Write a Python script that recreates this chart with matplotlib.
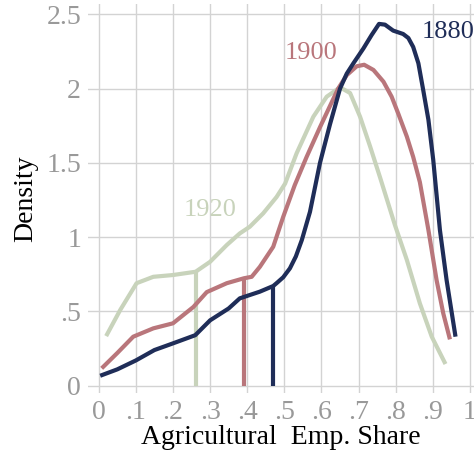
import matplotlib.pyplot as plt
import numpy as np

plt.rcParams['font.family'] = ['Liberation Serif', 'DejaVu Serif']

x_1880 = [0.004, 0.05, 0.10, 0.15, 0.20, 0.26, 0.30, 0.35, 0.38, 0.434, 0.470, 0.479, 0.497,
          0.515, 0.531, 0.547, 0.569, 0.596, 0.623, 0.65, 0.668, 0.686, 0.713, 0.735, 0.755,
          0.771, 0.793, 0.82, 0.834, 0.847, 0.861, 0.874, 0.888, 0.901, 0.919, 0.937, 0.961]
y_1880 = [0.067, 0.11, 0.17, 0.24, 0.285, 0.34, 0.44, 0.52, 0.588, 0.633, 0.671, 0.69, 0.73,
          0.79, 0.87, 0.98, 1.17, 1.50, 1.76, 2.00, 2.10, 2.17, 2.27, 2.36, 2.435,
          2.43, 2.39, 2.367, 2.34, 2.28, 2.17, 1.99, 1.79, 1.52, 1.048, 0.711, 0.33]

x_1900 = [0.008, 0.05, 0.093, 0.147, 0.20, 0.255, 0.291, 0.345, 0.391, 0.412, 0.434, 0.45,
          0.47, 0.497, 0.528, 0.56, 0.596, 0.645, 0.668, 0.695, 0.715, 0.74, 0.767, 0.789,
          0.807, 0.83, 0.847, 0.865, 0.888, 0.91, 0.928, 0.946]
y_1900 = [0.117, 0.22, 0.33, 0.386, 0.42, 0.53, 0.63, 0.69, 0.723, 0.733, 0.80, 0.86,
          0.935, 1.137, 1.35, 1.54, 1.74, 2.00, 2.09, 2.15, 2.16, 2.125, 2.046, 1.945,
          1.83, 1.676, 1.54, 1.37, 1.048, 0.711, 0.487, 0.312]

x_1920 = [0.02, 0.058, 0.102, 0.147, 0.20, 0.261, 0.30, 0.345, 0.38, 0.407, 0.443, 0.479,
          0.502, 0.533, 0.578, 0.614, 0.65, 0.677, 0.704, 0.731, 0.758, 0.798, 0.83,
          0.865, 0.897, 0.934]
y_1920 = [0.334, 0.51, 0.69, 0.733, 0.745, 0.767, 0.834, 0.947, 1.025, 1.07, 1.16, 1.27,
          1.36, 1.564, 1.81, 1.945, 2.008, 1.97, 1.81, 1.61, 1.40, 1.08, 0.846,
          0.554, 0.33, 0.146]

# vertical markers: (x, height)
mark_x = {'1880': 0.470, '1900': 0.391, '1920': 0.261}
mark_y = {'1880': 0.671, '1900': 0.723, '1920': 0.767}

colors = {'1880': '#1f2d58', '1900': '#b9767b', '1920': '#c8d3bb'}

fig = plt.figure(figsize=(4.74, 4.59), dpi=100)
ax = fig.add_axes([0.1857, 0.1438, 0.8143, 0.8475])

for yr, xs, ys in [('1920', x_1920, y_1920), ('1900', x_1900, y_1900), ('1880', x_1880, y_1880)]:
    ax.plot(xs, ys, color=colors[yr], lw=3.0, solid_capstyle='butt',
            solid_joinstyle='round', zorder=3)
    ax.plot([mark_x[yr], mark_x[yr]], [0, mark_y[yr]], color=colors[yr], lw=3.0,
            solid_capstyle='butt', zorder=3)

ax.text(0.94, 2.38, '1880', color=colors['1880'], fontsize=19, ha='center', va='center')
ax.text(0.573, 2.24, '1900', color=colors['1900'], fontsize=19, ha='center', va='center')
ax.text(0.30, 1.18, '1920', color=colors['1920'], fontsize=19, ha='center', va='center')

ax.set_xlim(-0.0288, 1.0108)
ax.set_ylim(-0.049, 2.569)

xt = np.round(np.arange(0, 1.01, 0.1), 1)
ax.set_xticks(xt)
ax.set_xticklabels(['0', '.1', '.2', '.3', '.4', '.5', '.6', '.7', '.8', '.9', '1'])
ax.set_yticks([0, 0.5, 1, 1.5, 2, 2.5])
ax.set_yticklabels(['0', '.5', '1', '1.5', '2', '2.5'])
ax.tick_params(length=0, labelsize=20, labelcolor='#999999', pad=5)

ax.grid(True, color='#d3d3d3', lw=1)
ax.set_axisbelow(True)
for s in ax.spines.values():
    s.set_visible(False)

ax.set_xlabel('Agricultural  Emp. Share', fontsize=20, color='black', labelpad=0)
ax.set_ylabel('Density', fontsize=20, color='black', labelpad=6)

fig.savefig('out.png', dpi=100)
